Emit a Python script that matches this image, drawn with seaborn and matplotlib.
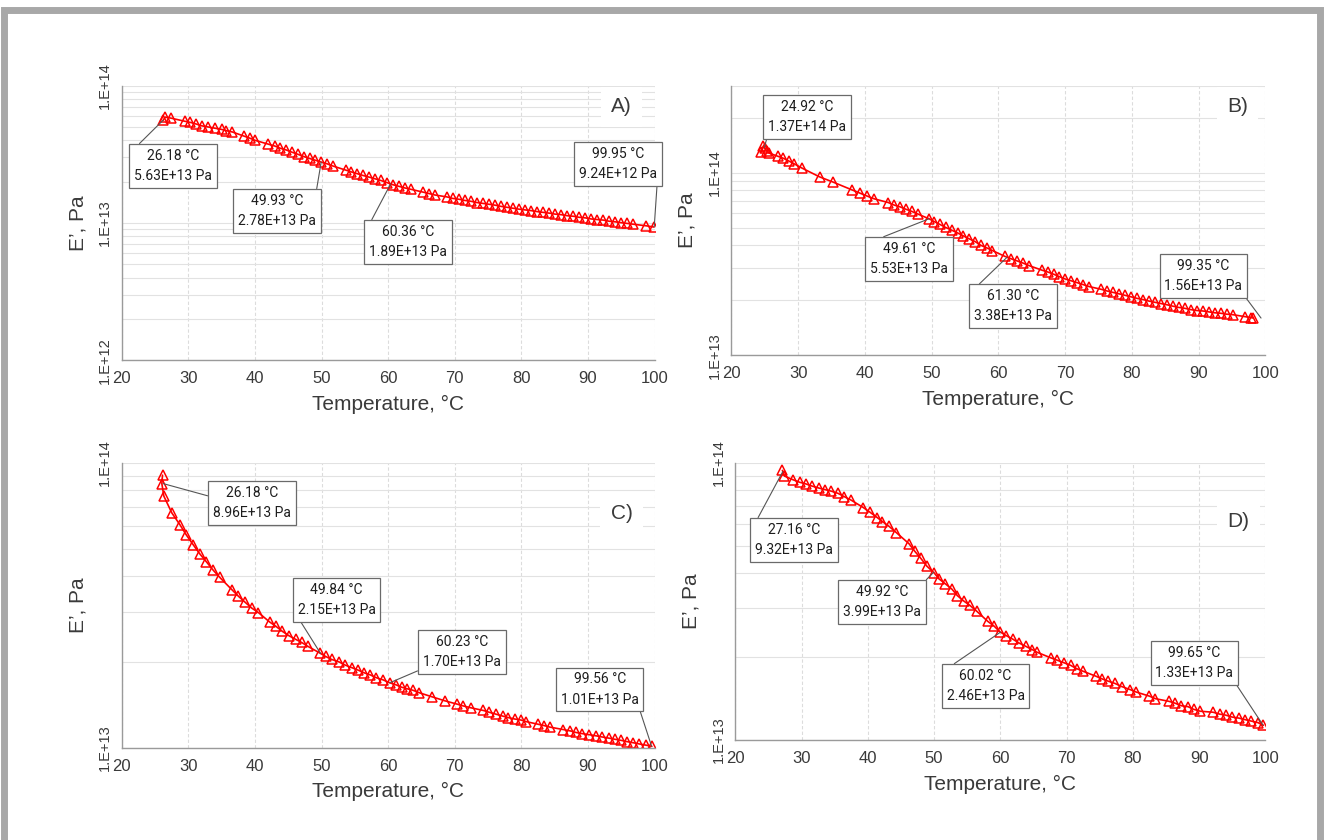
import matplotlib
matplotlib.use("Agg")
import matplotlib.pyplot as plt
import numpy as np
import seaborn as sns
from matplotlib.patches import Rectangle
from matplotlib.ticker import FixedLocator, FuncFormatter, LogLocator, NullFormatter

# ---- data: temperature (°C) and storage modulus E' (x1e13 Pa)
temp_a = [26.2, 26.5, 27.4, 29.5, 30.3, 31.2, 32.0, 33.0, 34.0, 35.0, 35.7, 36.6, 38.3, 39.2,
          40.0, 42.0, 43.0, 43.8, 44.7, 45.6, 46.4, 47.3, 48.2, 49.0, 49.9, 50.8, 51.7, 53.6,
          54.4, 55.3, 56.2, 57.1, 58.0, 58.9, 59.8, 60.7, 61.6, 62.5, 63.4, 65.2, 66.1, 67.0,
          68.8, 69.7, 70.6, 71.5, 72.4, 73.3, 74.2, 75.1, 76.0, 77.0, 77.9, 78.8, 79.7, 80.6,
          81.5, 82.4, 83.3, 84.2, 85.1, 86.0, 86.9, 87.8, 88.7, 89.6, 90.5, 91.4, 92.3, 93.2,
          94.1, 95.0, 95.9, 96.8, 98.7, 99.9]
mod_a = [5.6, 5.9, 5.8, 5.5, 5.4, 5.25, 5.1, 5.0, 4.9, 4.8, 4.7, 4.6, 4.3, 4.15,
         4.0, 3.75, 3.63, 3.5, 3.4, 3.27, 3.17, 3.05, 2.95, 2.87, 2.78, 2.7, 2.6, 2.43,
         2.36, 2.29, 2.22, 2.16, 2.1, 2.04, 1.97, 1.9, 1.85, 1.8, 1.76, 1.68, 1.64, 1.6,
         1.55, 1.51, 1.49, 1.46, 1.44, 1.41, 1.39, 1.37, 1.35, 1.32, 1.3, 1.28, 1.26, 1.245,
         1.23, 1.21, 1.195, 1.18, 1.16, 1.15, 1.13, 1.12, 1.10, 1.09, 1.07, 1.06, 1.05, 1.03,
         1.02, 1.005, 0.993, 0.98, 0.955, 0.935]

temp_b = [24.5, 24.8, 25.0, 25.3, 25.7, 27.0, 27.8, 28.6, 29.4, 30.6, 33.2, 35.2, 38.1, 39.2,
          40.3, 41.4, 43.5, 44.4, 45.3, 46.2, 47.0, 47.9, 49.6, 50.4, 51.2, 52.1, 53.0, 53.9,
          54.7, 55.6, 56.5, 57.4, 58.3, 59.1, 61.0, 61.9, 62.8, 63.7, 64.6, 66.5, 67.4, 68.3,
          69.1, 70.0, 70.9, 71.8, 72.7, 73.6, 75.4, 76.3, 77.2, 78.1, 79.0, 79.9, 80.8, 81.7,
          82.6, 83.5, 84.4, 85.3, 86.1, 87.0, 87.9, 88.8, 89.7, 90.6, 91.5, 92.4, 93.3, 94.2,
          95.1, 96.9, 97.8, 98.2]
mod_b = [13.0, 14.0, 13.6, 13.2, 12.8, 12.3, 12.0, 11.6, 11.2, 10.6, 9.5, 8.9, 8.05, 7.75,
         7.46, 7.2, 6.87, 6.65, 6.5, 6.3, 6.15, 5.95, 5.6, 5.4, 5.22, 5.02, 4.85, 4.68,
         4.52, 4.35, 4.2, 4.0, 3.87, 3.75, 3.48, 3.38, 3.29, 3.2, 3.1, 2.93, 2.86, 2.78,
         2.7, 2.62, 2.56, 2.5, 2.44, 2.38, 2.3, 2.25, 2.21, 2.17, 2.13, 2.09, 2.05, 2.02,
         1.98, 1.95, 1.92, 1.89, 1.86, 1.83, 1.81, 1.78, 1.76, 1.75, 1.73, 1.71, 1.7, 1.68,
         1.67, 1.63, 1.61, 1.6]

temp_c = [26.1, 26.0, 26.3, 27.5, 28.7, 29.7, 30.7, 31.7, 32.7, 33.7, 34.7, 36.6, 37.5, 38.5,
          39.5, 40.5, 42.2, 43.1, 44.1, 45.1, 46.1, 47.0, 47.9, 49.7, 50.6, 51.5, 52.6, 53.5,
          54.5, 55.5, 56.4, 57.3, 58.2, 59.2, 60.2, 61.2, 62.0, 62.8, 63.7, 64.6, 66.5, 68.5,
          70.4, 71.3, 72.4, 74.3, 75.2, 76.2, 77.2, 78.0, 79.0, 79.9, 80.7, 82.5, 83.4, 84.3,
          86.3, 87.3, 88.2, 89.1, 90.2, 91.2, 92.1, 93.1, 94.0, 95.0, 95.8, 96.8, 97.7, 98.7,
          99.6]
mod_c = [9.05, 8.45, 7.64, 6.67, 6.07, 5.57, 5.16, 4.79, 4.49, 4.2, 3.96, 3.57, 3.4, 3.24,
         3.09, 2.98, 2.76, 2.67, 2.56, 2.47, 2.4, 2.34, 2.27, 2.15, 2.09, 2.04, 2.0, 1.95,
         1.91, 1.87, 1.83, 1.8, 1.76, 1.73, 1.69, 1.66, 1.63, 1.61, 1.59, 1.56, 1.51, 1.46,
         1.42, 1.4, 1.38, 1.35, 1.33, 1.31, 1.29, 1.275, 1.26, 1.25, 1.234, 1.208, 1.195, 1.18,
         1.157, 1.145, 1.13, 1.12, 1.11, 1.1, 1.09, 1.08, 1.07, 1.06, 1.05, 1.04, 1.03, 1.02,
         1.01]

temp_d = [27.1, 27.4, 28.7, 29.7, 30.6, 31.6, 32.6, 33.5, 34.5, 35.5, 36.4, 37.5, 39.3, 40.3,
          41.4, 42.2, 43.2, 44.3, 46.2, 47.1, 48.0, 48.9, 50.0, 50.7, 51.7, 52.7, 53.5, 54.5,
          55.4, 56.4, 58.1, 59.1, 59.9, 60.9, 61.9, 62.8, 63.8, 64.8, 65.6, 67.6, 68.6, 69.6,
          70.6, 71.5, 72.5, 74.4, 75.4, 76.3, 77.3, 78.3, 79.6, 80.5, 82.5, 83.4, 85.4, 86.3,
          87.3, 88.3, 89.2, 90.2, 92.1, 93.1, 94.0, 95.0, 96.0, 96.9, 97.9, 98.9, 99.7]
mod_d = [9.39, 8.96, 8.69, 8.51, 8.4, 8.24, 8.11, 8.01, 7.9, 7.76, 7.56, 7.33, 6.9, 6.64,
         6.35, 6.14, 5.9, 5.6, 5.11, 4.79, 4.52, 4.24, 4.01, 3.82, 3.66, 3.5, 3.32, 3.17,
         3.06, 2.92, 2.68, 2.57, 2.46, 2.38, 2.31, 2.24, 2.18, 2.12, 2.07, 1.98, 1.94, 1.9,
         1.86, 1.81, 1.77, 1.7, 1.66, 1.63, 1.6, 1.56, 1.52, 1.49, 1.44, 1.41, 1.38, 1.36,
         1.33, 1.32, 1.29, 1.27, 1.26, 1.24, 1.23, 1.21, 1.2, 1.185, 1.17, 1.155, 1.13]

# annotation labels: (temperature, modulus text)
labels_a = [("26.18", "5.63E+13"), ("49.93", "2.78E+13"), ("60.36", "1.89E+13"), ("99.95", "9.24E+12")]
labels_b = [("24.92", "1.37E+14"), ("49.61", "5.53E+13"), ("61.30", "3.38E+13"), ("99.35", "1.56E+13")]
labels_c = [("26.18", "8.96E+13"), ("49.84", "2.15E+13"), ("60.23", "1.70E+13"), ("99.56", "1.01E+13")]
labels_d = [("27.16", "9.32E+13"), ("49.92", "3.99E+13"), ("60.02", "2.46E+13"), ("99.65", "1.33E+13")]

# layout (figure fractions), box positions (axes fraction) and leader-line corners
panels = [
    dict(t=temp_a, m=mod_a, lab=labels_a, name="A)", rect=[0.092, 0.571, 0.402, 0.327],
         ylim=(1e12, 1e14), letter=(0.938, 0.923),
         boxes=[(0.096, 0.708, (0, 1)), (0.291, 0.544, (1, 1)), (0.537, 0.431, (0, 1)), (0.932, 0.715, (1, 0))]),
    dict(t=temp_b, m=mod_b, lab=labels_b, name="B)", rect=[0.552, 0.577, 0.403, 0.321],
         ylim=(1e13, 3e14), letter=(0.948, 0.922),
         boxes=[(0.142, 0.885, (0, 0)), (0.333, 0.357, (0, 1)), (0.527, 0.182, (0, 1)), (0.884, 0.294, (1, 0))]),
    dict(t=temp_c, m=mod_c, lab=labels_c, name="C)", rect=[0.092, 0.110, 0.402, 0.339],
         ylim=(1e13, 1e14), letter=(0.938, 0.821),
         boxes=[(0.244, 0.86, (0, 0.66)), (0.403, 0.519, (0, 0)), (0.638, 0.337, (0, 0)), (0.897, 0.204, (1, 0))]),
    dict(t=temp_d, m=mod_d, lab=labels_d, name="D)", rect=[0.555, 0.119, 0.400, 0.330],
         ylim=(1e13, 1e14), letter=(0.949, 0.79),
         boxes=[(0.111, 0.722, (0, 1)), (0.277, 0.498, (1, 1)), (0.472, 0.195, (0, 1)), (0.866, 0.278, (1, 0))]),
]

sns.set_style("white")
plt.rcParams["font.family"] = ["Liberation Sans", "DejaVu Sans"]

fig = plt.figure(figsize=(13.25, 8.4), dpi=100)
fig.patches.append(Rectangle((0.003, -0.02), 0.993, 1.008, transform=fig.transFigure,
                             fill=False, ec="#a8a8a8", lw=5))

txt_col = "#3a3a3a"


def dec_fmt(v, pos):
    return "1.E+%d" % int(round(np.log10(v)))


for p in panels:
    ax = fig.add_axes(p["rect"])
    t = np.array(p["t"])
    m = np.array(p["m"]) * 1e13
    sns.lineplot(x=t, y=m, ax=ax, color="#ff0000", lw=1.2, sort=False, estimator=None,
                 marker="^", markersize=7, markerfacecolor="none",
                 markeredgecolor="#ff0000", markeredgewidth=1.1)
    ax.set_yscale("log")
    ax.set_xlim(20, 100)
    ax.set_ylim(*p["ylim"])
    ax.set_xticks(range(20, 101, 10))
    lo, hi = np.log10(p["ylim"])
    ax.yaxis.set_major_locator(FixedLocator([10.0 ** k for k in range(int(np.floor(lo)), int(np.floor(hi)) + 1)]))
    ax.yaxis.set_major_formatter(FuncFormatter(dec_fmt))
    ax.yaxis.set_minor_locator(LogLocator(base=10, subs=np.arange(2, 10)))
    ax.yaxis.set_minor_formatter(NullFormatter())

    ax.grid(axis="x", which="major", color="#dcdcdc", lw=0.8, ls=(0, (3, 2)))
    ax.grid(axis="y", which="both", color="#e2e2e2", lw=0.8)
    for s in ["top", "right"]:
        ax.spines[s].set_visible(False)
    for s in ["left", "bottom"]:
        ax.spines[s].set_color("#9a9a9a")
        ax.spines[s].set_linewidth(1.0)
    ax.tick_params(axis="x", which="major", direction="out", length=5, color="#9a9a9a",
                   labelsize=12, labelcolor=txt_col, pad=3)
    ax.tick_params(axis="y", which="major", direction="out", length=5, color="#9a9a9a",
                   labelsize=10.5, labelcolor=txt_col, pad=2)
    ax.tick_params(axis="y", which="minor", length=0)
    for lab in ax.get_yticklabels():
        lab.set_rotation(90)
        lab.set_va("center")
    ax.set_xlabel("Temperature, °C", fontsize=15, color=txt_col, labelpad=6)
    ax.set_ylabel("E’, Pa", fontsize=15, color=txt_col, labelpad=8)

    ax.text(p["letter"][0], p["letter"][1], p["name"], transform=ax.transAxes, fontsize=15,
            color=txt_col, ha="center", va="center",
            bbox=dict(boxstyle="square,pad=0.5", fc="white", ec="none"))

    order = np.argsort(t)
    for (tl, ml), (bx, by, rp) in zip(p["lab"], p["boxes"]):
        tx = float(tl)
        ty = 10 ** np.interp(tx, t[order], np.log10(m[order]))
        ax.annotate("%s °C\n%s Pa" % (tl, ml), xy=(tx, ty), xycoords="data",
                    xytext=(bx, by), textcoords="axes fraction",
                    ha="center", va="center", fontsize=10, family="Roboto",
                    color="#1e1e1e", linespacing=1.55, zorder=5,
                    bbox=dict(boxstyle="square,pad=0.35", fc="white", ec="#6a6a6a", lw=0.9),
                    arrowprops=dict(arrowstyle="-", color="#555555", lw=0.8, relpos=rp,
                                    shrinkA=0, shrinkB=0))

fig.savefig("out.png", dpi=100)
